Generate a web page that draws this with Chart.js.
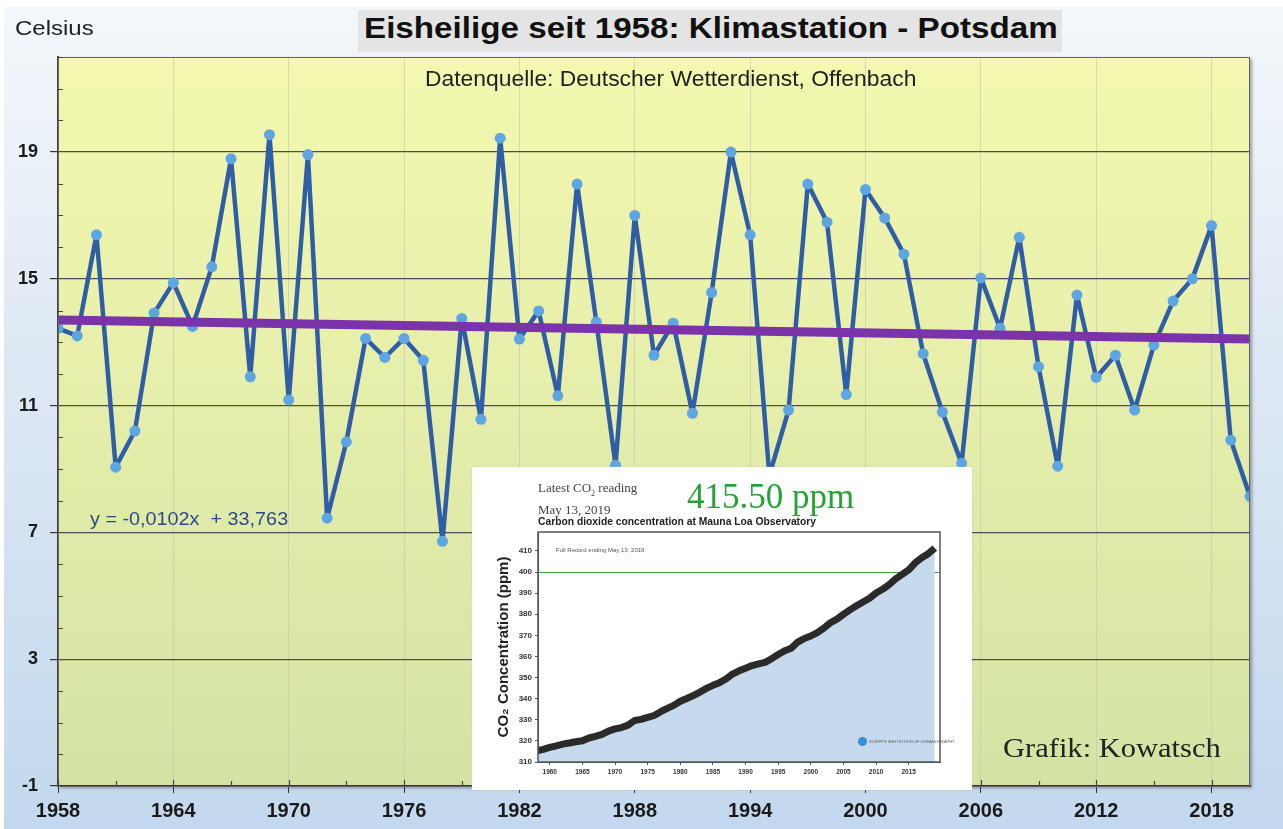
<!DOCTYPE html>
<html>
<head>
<meta charset="utf-8">
<script src="https://cdn.jsdelivr.net/npm/chart.js@4.4.1/dist/chart.umd.min.js"></script>
<style>
  body { margin: 0; background: #fff; }
  #wrap { position: relative; width: 1283px; height: 829px; overflow: hidden; background: #fff; }
  #panel { position: absolute; left: 4px; top: 7px; width: 1279px; height: 822px;
           background: linear-gradient(to bottom, #f4f7fb 0%, #dde8f4 45%, #c3d8ee 100%); }
  #mainChart { position: absolute; left: 0; top: 0; }
  .txt { position: absolute; white-space: nowrap; transform-origin: left center; }
  #celsius { left: 15px; top: 17px; font: 20px "Liberation Sans", Arial, sans-serif; color: #222; transform: scaleX(1.2); }
  #titlebox { position: absolute; left: 358px; top: 10px; width: 704px; height: 42px; background: #e4e4e4; }
  #title { left: 364px; top: 12px; line-height: 40px; font: bold 29px "Liberation Sans", Arial, sans-serif;
           color: #111; transform: scaleX(1.145); }
  #source { left: 425px; top: 66px; font: 22px "Liberation Sans", Arial, sans-serif; color: #222; transform: scaleX(1.04); }
  #eq { left: 90px; top: 509px; font: 18px "Liberation Sans", Arial, sans-serif; color: #2c4a8a; transform: scaleX(1.1); }
  #credit { left: 1003px; top: 733px; font: 27px "Liberation Serif", "Times New Roman", serif; color: #222;
            transform: scaleX(1.13); }
  #inset { position: absolute; left: 472px; top: 467px; width: 500px; height: 323px; background: #fff;
           box-shadow: 0 0 1px #bbb; }
  #co2Chart { position: absolute; left: 0; top: 0; }
  #latest { left: 66px; top: 13px; font: 13px "Liberation Serif", "Times New Roman", serif; color: #444; line-height: 16px; }
  #ppm { left: 215px; top: 10px; font: 35px "Liberation Serif", "Times New Roman", serif; color: #26a335; }
  #co2title { left: 66px; top: 49px; font: bold 10.3px "Liberation Sans", Arial, sans-serif; color: #222; }
  #record { left: 84px; top: 80px; font: 6px "Liberation Sans", Arial, sans-serif; color: #555; }
  #scripps { left: 386px; top: 270px; font: 4px "Liberation Sans", Arial, sans-serif; color: #555; }
  #scripps span { display: inline-block; width: 9px; height: 9px; border-radius: 50%; background: #3a8fd0;
                  vertical-align: middle; margin-right: 2px; }
</style>
</head>
<body>
<div id="wrap">
  <div id="panel"></div>
  <canvas id="mainChart" width="1283" height="829"></canvas>
  <div class="txt" id="celsius">Celsius</div>
  <div id="titlebox"></div>
  <div class="txt" id="title">Eisheilige seit 1958: Klimastation - Potsdam</div>
  <div class="txt" id="source">Datenquelle: Deutscher Wetterdienst, Offenbach</div>
  <div class="txt" id="eq">y = -0,0102x &nbsp;+ 33,763</div>
  <div class="txt" id="credit">Grafik: Kowatsch</div>
  <div id="inset">
    <canvas id="co2Chart" width="500" height="323"></canvas>
    <div class="txt" id="latest">Latest CO<sub style="font-size:8px">2</sub> reading<br>May 13, 2019</div>
    <div class="txt" id="ppm">415.50 ppm</div>
    <div class="txt" id="co2title">Carbon dioxide concentration at Mauna Loa Observatory</div>
    <div class="txt" id="record">Full Record ending May 13, 2019</div>
    <div class="txt" id="scripps"><span></span>SCRIPPS INSTITUTION OF OCEANOGRAPHY</div>
  </div>
</div>

<script>
// Eisheilige (11.-15. Mai) mean temperature, Potsdam
const years = [
  1958, 1959, 1960, 1961, 1962, 1963, 1964, 1965, 1966, 1967,
  1968, 1969, 1970, 1971, 1972, 1973, 1974, 1975, 1976, 1977,
  1978, 1979, 1980, 1981, 1982, 1983, 1984, 1985, 1986, 1987,
  1988, 1989, 1990, 1991, 1992, 1993, 1994, 1995, 1996, 1997,
  1998, 1999, 2000, 2001, 2002, 2003, 2004, 2005, 2006, 2007,
  2008, 2009, 2010, 2011, 2012, 2013, 2014, 2015, 2016, 2017,
  2018, 2019, 2020
];
const temps = [
  13.44, 13.2, 16.39, 9.06, 10.2, 13.92, 14.88, 13.5, 15.38, 18.79,
  11.91, 19.55, 11.18, 18.92, 7.45, 9.86, 13.12, 12.52, 13.12, 12.43,
  6.72, 13.75, 10.57, 19.44, 13.1, 13.99, 11.31, 17.99, 13.64, 9.12,
  17.0, 12.59, 13.6, 10.76, 14.57, 19.0, 16.39, 8.8, 10.86, 17.99,
  16.79, 11.35, 17.82, 16.92, 15.78, 12.64, 10.8, 9.18, 15.03, 13.44,
  16.31, 12.23, 9.09, 14.49, 11.89, 12.59, 10.86, 12.91, 14.3, 15.0,
  16.68, 9.91, 8.14
];
// linear trend, end points as drawn
const trendYears = [1958, 2020];
const trendValues = [13.7, 13.1];

const yTicks = [-1, 3, 7, 11, 15, 19];
const xTicks = [1958, 1964, 1970, 1976, 1982, 1988, 1994, 2000, 2006, 2012, 2018];

// Mauna Loa CO2 (inset), annual values
const co2Years = [
  1958, 1959, 1960, 1961, 1962, 1963, 1964, 1965, 1966, 1967,
  1968, 1969, 1970, 1971, 1972, 1973, 1974, 1975, 1976, 1977,
  1978, 1979, 1980, 1981, 1982, 1983, 1984, 1985, 1986, 1987,
  1988, 1989, 1990, 1991, 1992, 1993, 1994, 1995, 1996, 1997,
  1998, 1999, 2000, 2001, 2002, 2003, 2004, 2005, 2006, 2007,
  2008, 2009, 2010, 2011, 2012, 2013, 2014, 2015, 2016, 2017,
  2018, 2019
];
const co2Values = [
  315.2, 315.98, 316.91, 317.64, 318.45, 318.99, 319.62, 320.04, 321.37, 322.18,
  323.05, 324.62, 325.68, 326.32, 327.46, 329.68, 330.19, 331.12, 332.03, 333.84,
  335.41, 336.84, 338.76, 340.12, 341.48, 343.15, 344.87, 346.35, 347.61, 349.31,
  351.69, 353.2, 354.45, 355.7, 356.54, 357.21, 358.96, 360.97, 362.74, 363.88,
  366.84, 368.54, 369.71, 371.32, 373.45, 375.98, 377.7, 379.98, 382.09, 384.02,
  385.83, 387.64, 390.1, 391.85, 394.06, 396.74, 398.87, 401.01, 404.41, 406.76,
  408.72, 411.4
];
const co2YTicks = [310, 320, 330, 340, 350, 360, 370, 380, 390, 400, 410];
const co2XTicks = [1960, 1965, 1970, 1975, 1980, 1985, 1990, 1995, 2000, 2005, 2010, 2015];

const sans = "'Liberation Sans', Arial, sans-serif";

// yellow plot background + frame + minor ticks
const plotDecor = {
  id: 'plotDecor',
  beforeDraw(chart) {
    const { ctx, chartArea: a } = chart;
    const g = ctx.createLinearGradient(0, a.top, 0, a.bottom);
    g.addColorStop(0, '#f4f8b0');
    g.addColorStop(1, '#d4e3a4');
    ctx.save();
    ctx.shadowColor = 'rgba(0,0,0,0.35)';
    ctx.shadowBlur = 3;
    ctx.shadowOffsetX = 2;
    ctx.shadowOffsetY = 2;
    ctx.fillStyle = g;
    ctx.fillRect(a.left, a.top, a.right - a.left, a.bottom - a.top);
    ctx.restore();
  },
  afterDraw(chart) {
    const { ctx, chartArea: a, scales } = chart;
    ctx.save();
    ctx.strokeStyle = '#666';
    ctx.lineWidth = 1;
    ctx.strokeRect(a.left + 0.5, a.top + 0.5, a.right - a.left - 1, a.bottom - a.top);
    ctx.strokeStyle = '#444';
    ctx.lineWidth = 1.2;
    ctx.beginPath();
    for (let v = -1; v <= 22; v++) {
      if (yTicks.includes(v)) continue;
      const y = Math.round(scales.y.getPixelForValue(v)) + 0.5;
      ctx.moveTo(a.left, y);
      ctx.lineTo(a.left + 5, y);
    }
    for (let v = 1961; v < 2020; v += 6) {
      const x = Math.round(scales.x.getPixelForValue(v)) + 0.5;
      ctx.moveTo(x, a.bottom);
      ctx.lineTo(x, a.bottom - 5);
    }
    xTicks.forEach(v => {
      const x = Math.round(scales.x.getPixelForValue(v)) + 0.5;
      ctx.moveTo(x, a.bottom);
      ctx.lineTo(x, a.bottom - 6);
    });
    ctx.stroke();
    ctx.restore();
  }
};

new Chart(document.getElementById('mainChart'), {
  type: 'line',
  data: {
    datasets: [
      {
        label: 'Trend',
        data: trendYears.map((x, i) => ({ x, y: trendValues[i] })),
        borderColor: '#7a33a8',
        borderWidth: 9,
        pointRadius: 0,
        fill: false
      },
      {
        label: 'Eisheilige',
        data: years.map((x, i) => ({ x, y: temps[i] })),
        borderColor: '#2f5ea7',
        borderWidth: 4.5,
        borderJoinStyle: 'round',
        pointRadius: 5.5,
        pointBorderWidth: 0,
        pointBackgroundColor: '#5ea6e3',
        tension: 0,
        fill: false
      }
    ]
  },
  options: {
    responsive: false,
    animation: false,
    layout: { padding: { left: 0, right: 33, top: 57, bottom: 0 } },
    plugins: { legend: { display: false }, tooltip: { enabled: false } },
    scales: {
      x: {
        type: 'linear',
        min: 1958,
        max: 2020,
        afterBuildTicks: s => { s.ticks = xTicks.map(value => ({ value })); },
        afterFit: s => { s.height = 43; },
        grid: { color: 'rgba(190,190,190,0.55)', tickColor: '#333', tickLength: 7, lineWidth: 1 },
        border: { color: '#333', width: 2 },
        ticks: { color: '#1a1a1a', font: { family: sans, size: 20, weight: 'bold' }, padding: 6, maxRotation: 0,
                 callback: v => String(v) }
      },
      y: {
        min: -1,
        max: 22,
        afterBuildTicks: s => { s.ticks = yTicks.map(value => ({ value })); },
        afterFit: s => { s.width = 58; },
        grid: { color: '#4d4d4d', tickColor: '#333', tickLength: 8, lineWidth: 1.2 },
        border: { color: '#444', width: 2 },
        ticks: { color: '#1a1a1a', font: { family: sans, size: 18, weight: 'bold' },
                 padding: 12, callback: v => String(v) }
      }
    }
  },
  plugins: [plotDecor]
});

// inset: Mauna Loa CO2 curve
const co2Decor = {
  id: 'co2Decor',
  beforeDatasetsDraw(chart) {
    const { ctx, chartArea: a, scales } = chart;
    const y = Math.round(scales.y.getPixelForValue(400)) + 0.5;
    ctx.save();
    ctx.strokeStyle = '#3aa64a';
    ctx.lineWidth = 1;
    ctx.beginPath();
    ctx.moveTo(a.left, y);
    ctx.lineTo(a.right, y);
    ctx.stroke();
    ctx.restore();
  },
  afterDraw(chart) {
    const { ctx, chartArea: a } = chart;
    ctx.save();
    ctx.strokeStyle = '#555';
    ctx.lineWidth = 1.5;
    ctx.strokeRect(a.left, a.top, a.right - a.left, a.bottom - a.top);
    ctx.restore();
  }
};

new Chart(document.getElementById('co2Chart'), {
  type: 'line',
  data: {
    datasets: [{
      data: co2Years.map((x, i) => ({ x, y: co2Values[i] })),
      borderColor: '#2a2a2a',
      borderWidth: 7,
      borderJoinStyle: 'round',
      pointRadius: 0,
      fill: 'start',
      backgroundColor: '#c7d9ec',
      tension: 0
    }]
  },
  options: {
    responsive: false,
    animation: false,
    layout: { padding: { left: 0, right: 32, top: 65, bottom: 0 } },
    plugins: { legend: { display: false }, tooltip: { enabled: false } },
    scales: {
      x: {
        type: 'linear',
        min: 1958.2,
        max: 2019.8,
        afterBuildTicks: s => { s.ticks = co2XTicks.map(value => ({ value })); },
        afterFit: s => { s.height = 28; },
        grid: { drawOnChartArea: false, tickLength: 3, color: '#555' },
        border: { color: '#555' },
        ticks: { color: '#333', font: { size: 6.5, weight: 'bold' }, padding: 3, maxRotation: 0,
                 callback: v => String(v) }
      },
      y: {
        min: 310,
        max: 419,
        afterBuildTicks: s => { s.ticks = co2YTicks.map(value => ({ value })); },
        afterFit: s => { s.width = 66; },
        grid: { drawOnChartArea: false, tickLength: 3, color: '#555' },
        border: { color: '#555' },
        title: { display: true, text: 'CO\u2082 Concentration (ppm)', color: '#222',
                 font: { size: 15, weight: 'bold' }, padding: { top: 23, bottom: 0 } },
        ticks: { color: '#333', font: { size: 8, weight: 'bold' }, padding: 3 }
      }
    }
  },
  plugins: [co2Decor]
});
</script>
</body>
</html>
